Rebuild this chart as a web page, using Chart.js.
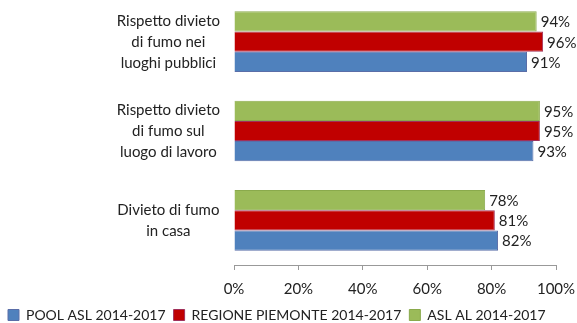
<!DOCTYPE html>
<html><head><meta charset="utf-8">
<script src="https://cdn.jsdelivr.net/npm/chart.js@4/dist/chart.umd.min.js"></script>
<style>html,body{margin:0;padding:0;background:#fff;overflow:hidden}#w{width:577px;height:323px;overflow:hidden;position:relative}#c{position:absolute;left:0;top:-3px}</style>
</head><body><div id="w"><canvas id="c" width="577" height="326"></canvas></div>
<script>
const categories = [
  ["Rispetto divieto","di fumo nei","luoghi pubblici"],
  ["Rispetto divieto","di fumo sul","luogo di lavoro"],
  ["Divieto di fumo","in casa"]
];
const seriesNames = ["POOL ASL 2014-2017","REGIONE PIEMONTE 2014-2017","ASL AL 2014-2017"];
const poolAsl = [91, 93, 82];
const regionePiemonte = [96, 95, 81];
const aslAl = [94, 95, 78];
const xTicks = [0, 20, 40, 60, 80, 100];

const FONT = "Lato";
const valueLabels = {
  id: 'valueLabels',
  afterDatasetsDraw(chart) {
    const ctx = chart.ctx;
    ctx.save();
    ctx.font = "15px " + FONT;
    ctx.fillStyle = "#222";
    ctx.textAlign = "left";
    ctx.textBaseline = "middle";
    chart.data.datasets.forEach((ds, i) => {
      const meta = chart.getDatasetMeta(i);
      meta.data.forEach((el, j) => {
        ctx.fillText(ds.data[j] + "%", el.x + 4, el.y + 1);
      });
    });
    ctx.restore();
  }
};

new Chart(document.getElementById('c'), {
  type: 'bar',
  data: {
    labels: categories,
    datasets: [
      {label: seriesNames[2], data: aslAl, backgroundColor: "#9BBB59", borderColor: "#8AAA4C", borderWidth: 1},
      {label: seriesNames[1], data: regionePiemonte, backgroundColor: "#C00000", borderColor: "#A0305A", borderWidth: 1},
      {label: seriesNames[0], data: poolAsl, backgroundColor: "#4F81BD", borderColor: "#5A6EA8", borderWidth: 1}
    ]
  },
  options: {
    indexAxis: 'y',
    responsive: false,
    animation: false,
    layout: {padding: {top: 0, right: 21, left: 0, bottom: -9}},
    datasets: {bar: {barPercentage: 1.0, categoryPercentage: 0.68}},
    scales: {
      x: {
        min: 0, max: 100,
        afterBuildTicks: (s) => { s.ticks = xTicks.map(v => ({value: v})); },
        afterFit: (s) => { s.height = 35; s.paddingLeft = 0; s.paddingRight = 0; },
        ticks: {callback: v => v + "%", color: "#222", font: {family: FONT, size: 15}, padding: 10},
        grid: {display: true, drawOnChartArea: false, drawTicks: true, tickLength: 5, color: "#999"},
        border: {display: true, color: "#999"}
      },
      y: {
        afterFit: (s) => { s.width = 234; s.paddingTop = 0; s.paddingBottom = 0; },
        ticks: {color: "#222", font: {family: FONT, size: 15, lineHeight: 1.4}, crossAlign: 'center', padding: 14},
        grid: {display: false, drawTicks: false},
        border: {display: false}
      }
    },
    plugins: {
      legend: {
        position: 'bottom',
        align: 'start',
        reverse: true,
        labels: {boxWidth: 11, boxHeight: 11, padding: 8, color: "#222", font: {family: FONT, size: 14}}
      },
      tooltip: {enabled: false}
    }
  },
  plugins: [valueLabels]
});
</script></body></html>
